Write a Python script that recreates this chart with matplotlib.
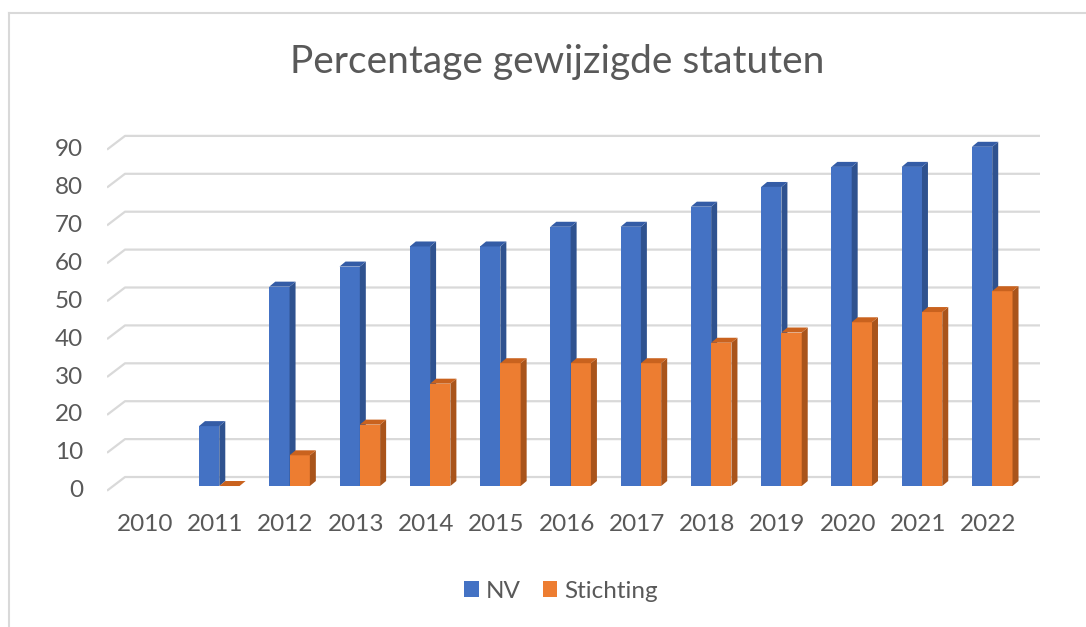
import matplotlib
matplotlib.use("Agg")
import matplotlib.pyplot as plt
import numpy as np
from matplotlib.patches import Polygon, Patch
from matplotlib.lines import Line2D
import matplotlib.transforms as mtransforms

# ---- data ----
years = ["2010", "2011", "2012", "2013", "2014", "2015", "2016",
         "2017", "2018", "2019", "2020", "2021", "2022"]
nv = [np.nan, 15.8, 52.6, 57.9, 63.2, 63.2, 68.4, 68.4, 73.7, 78.9, 84.2, 84.2, 89.5]
stichting = [np.nan, 0.0, 8.1, 16.2, 27.0, 32.4, 32.4, 32.4, 37.8, 40.5, 43.2, 45.9, 51.4]
yticks = [0, 10, 20, 30, 40, 50, 60, 70, 80, 90]
series_names = ["NV", "Stichting"]
title = "Percentage gewijzigde statuten"

# ---- style ----
FONT = ["Lato", "DejaVu Sans"]
TXT = "#595959"
GRID = "#D9D9D9"
BLUE, BLUE_SIDE, BLUE_TOP = "#4472C4", "#2F528F", "#345CA6"
ORNG, ORNG_SIDE, ORNG_TOP = "#ED7D31", "#A9541B", "#C9621E"
plt.rcParams["font.family"] = FONT
TICK_FS = 17.5

W, H = 1086, 627
fig = plt.figure(figsize=(W / 100, H / 100), dpi=100)
fig.patch.set_facecolor("white")


def rect(x0, y0, x1, y1):
    return [x0 / W, 1 - y1 / H, (x1 - x0) / W, (y1 - y0) / H]


ax = fig.add_axes(rect(107, 120, 1040, 500))
ax.set_xlim(-0.598, 12.68)
ax.set_ylim(-3.69, 96.57)
ax.axis("off")

# pixel-per-unit from the axes scales
p0 = ax.transData.transform((0, 0))
p1 = ax.transData.transform((1, 1))
ppx = p1[0] - p0[0]
ppy = p1[1] - p0[1]

xlo = ax.get_xlim()[0]
xhi = ax.get_xlim()[1]
# depth geometry (in pixels)
back_dx, back_dy = 18, 9      # back wall offset relative to front edge of floor
front_dy = -4.7               # front edge of floor relative to bar plane
bar_dx, bar_dy = 6, 5         # bar depth

# gridlines (back wall + left diagonal)
for v in yticks:
    yb = v + back_dy / ppy
    yf = v + front_dy / ppy
    ax.plot([xlo, xlo + back_dx / ppx, xhi], [yf, yb, yb],
            color=GRID, lw=1.6, zorder=0.5, solid_capstyle="butt")

x = np.arange(len(years))
w = 20.3 / ppx
ddx = bar_dx / ppx
ddy = bar_dy / ppy


def bar3d(xs, vals, front, side, top, z):
    ax.bar(xs, vals, width=w, align="edge", color=front, zorder=z, linewidth=0)
    for xl, v in zip(xs, vals):
        if np.isnan(v):
            continue
        xr = xl + w
        ax.add_patch(Polygon([(xr, 0), (xr + ddx, ddy), (xr + ddx, v + ddy), (xr, v)],
                             closed=True, facecolor=side, edgecolor="none", zorder=z + 0.1))
        ax.add_patch(Polygon([(xl, v), (xr, v), (xr + ddx, v + ddy), (xl + ddx, v + ddy)],
                             closed=True, facecolor=top, edgecolor="none", zorder=z + 0.1))


bar3d(x - w, np.array(nv), BLUE, BLUE_SIDE, BLUE_TOP, 2)
bar3d(x, np.array(stichting), ORNG, ORNG_SIDE, ORNG_TOP, 3)

# y tick labels (at the floor's front edge)
ytr = ax.get_yaxis_transform() + mtransforms.ScaledTranslation(-24 / 100, front_dy / 100, fig.dpi_scale_trans)
for v in yticks:
    ax.text(0, v, str(v), transform=ytr, ha="right", va="center",
            fontsize=TICK_FS, color=TXT)

# x category labels
xtr = ax.transData + mtransforms.ScaledTranslation(-4 / 100, -38 / 100, fig.dpi_scale_trans)
for xi, lab in zip(x, years):
    ax.text(xi, 0, lab, transform=xtr, ha="center", va="center",
            fontsize=TICK_FS, color=TXT)

# title
fig.text(557 / W, 1 - 73 / H, title, ha="center", va="baseline",
         fontsize=28, color=TXT)

# legend
handles = [Patch(facecolor=BLUE, edgecolor="none"), Patch(facecolor=ORNG, edgecolor="none")]
fig.legend(handles, series_names, loc="center", bbox_to_anchor=(561 / W, 1 - 591 / H),
           ncol=2, frameon=False, fontsize=17.5, handlelength=0.6, handleheight=0.6,
           handletextpad=0.3, columnspacing=0.9, labelcolor=TXT)

# chart border (top and left visible)
fig.add_artist(Line2D([9 / W, 9 / W], [0, 1 - 13 / H], color=GRID, lw=1.5, transform=fig.transFigure))
fig.add_artist(Line2D([9 / W, 1], [1 - 13 / H, 1 - 13 / H], color=GRID, lw=1.5, transform=fig.transFigure))

fig.savefig("out.png", dpi=100, facecolor="white")
